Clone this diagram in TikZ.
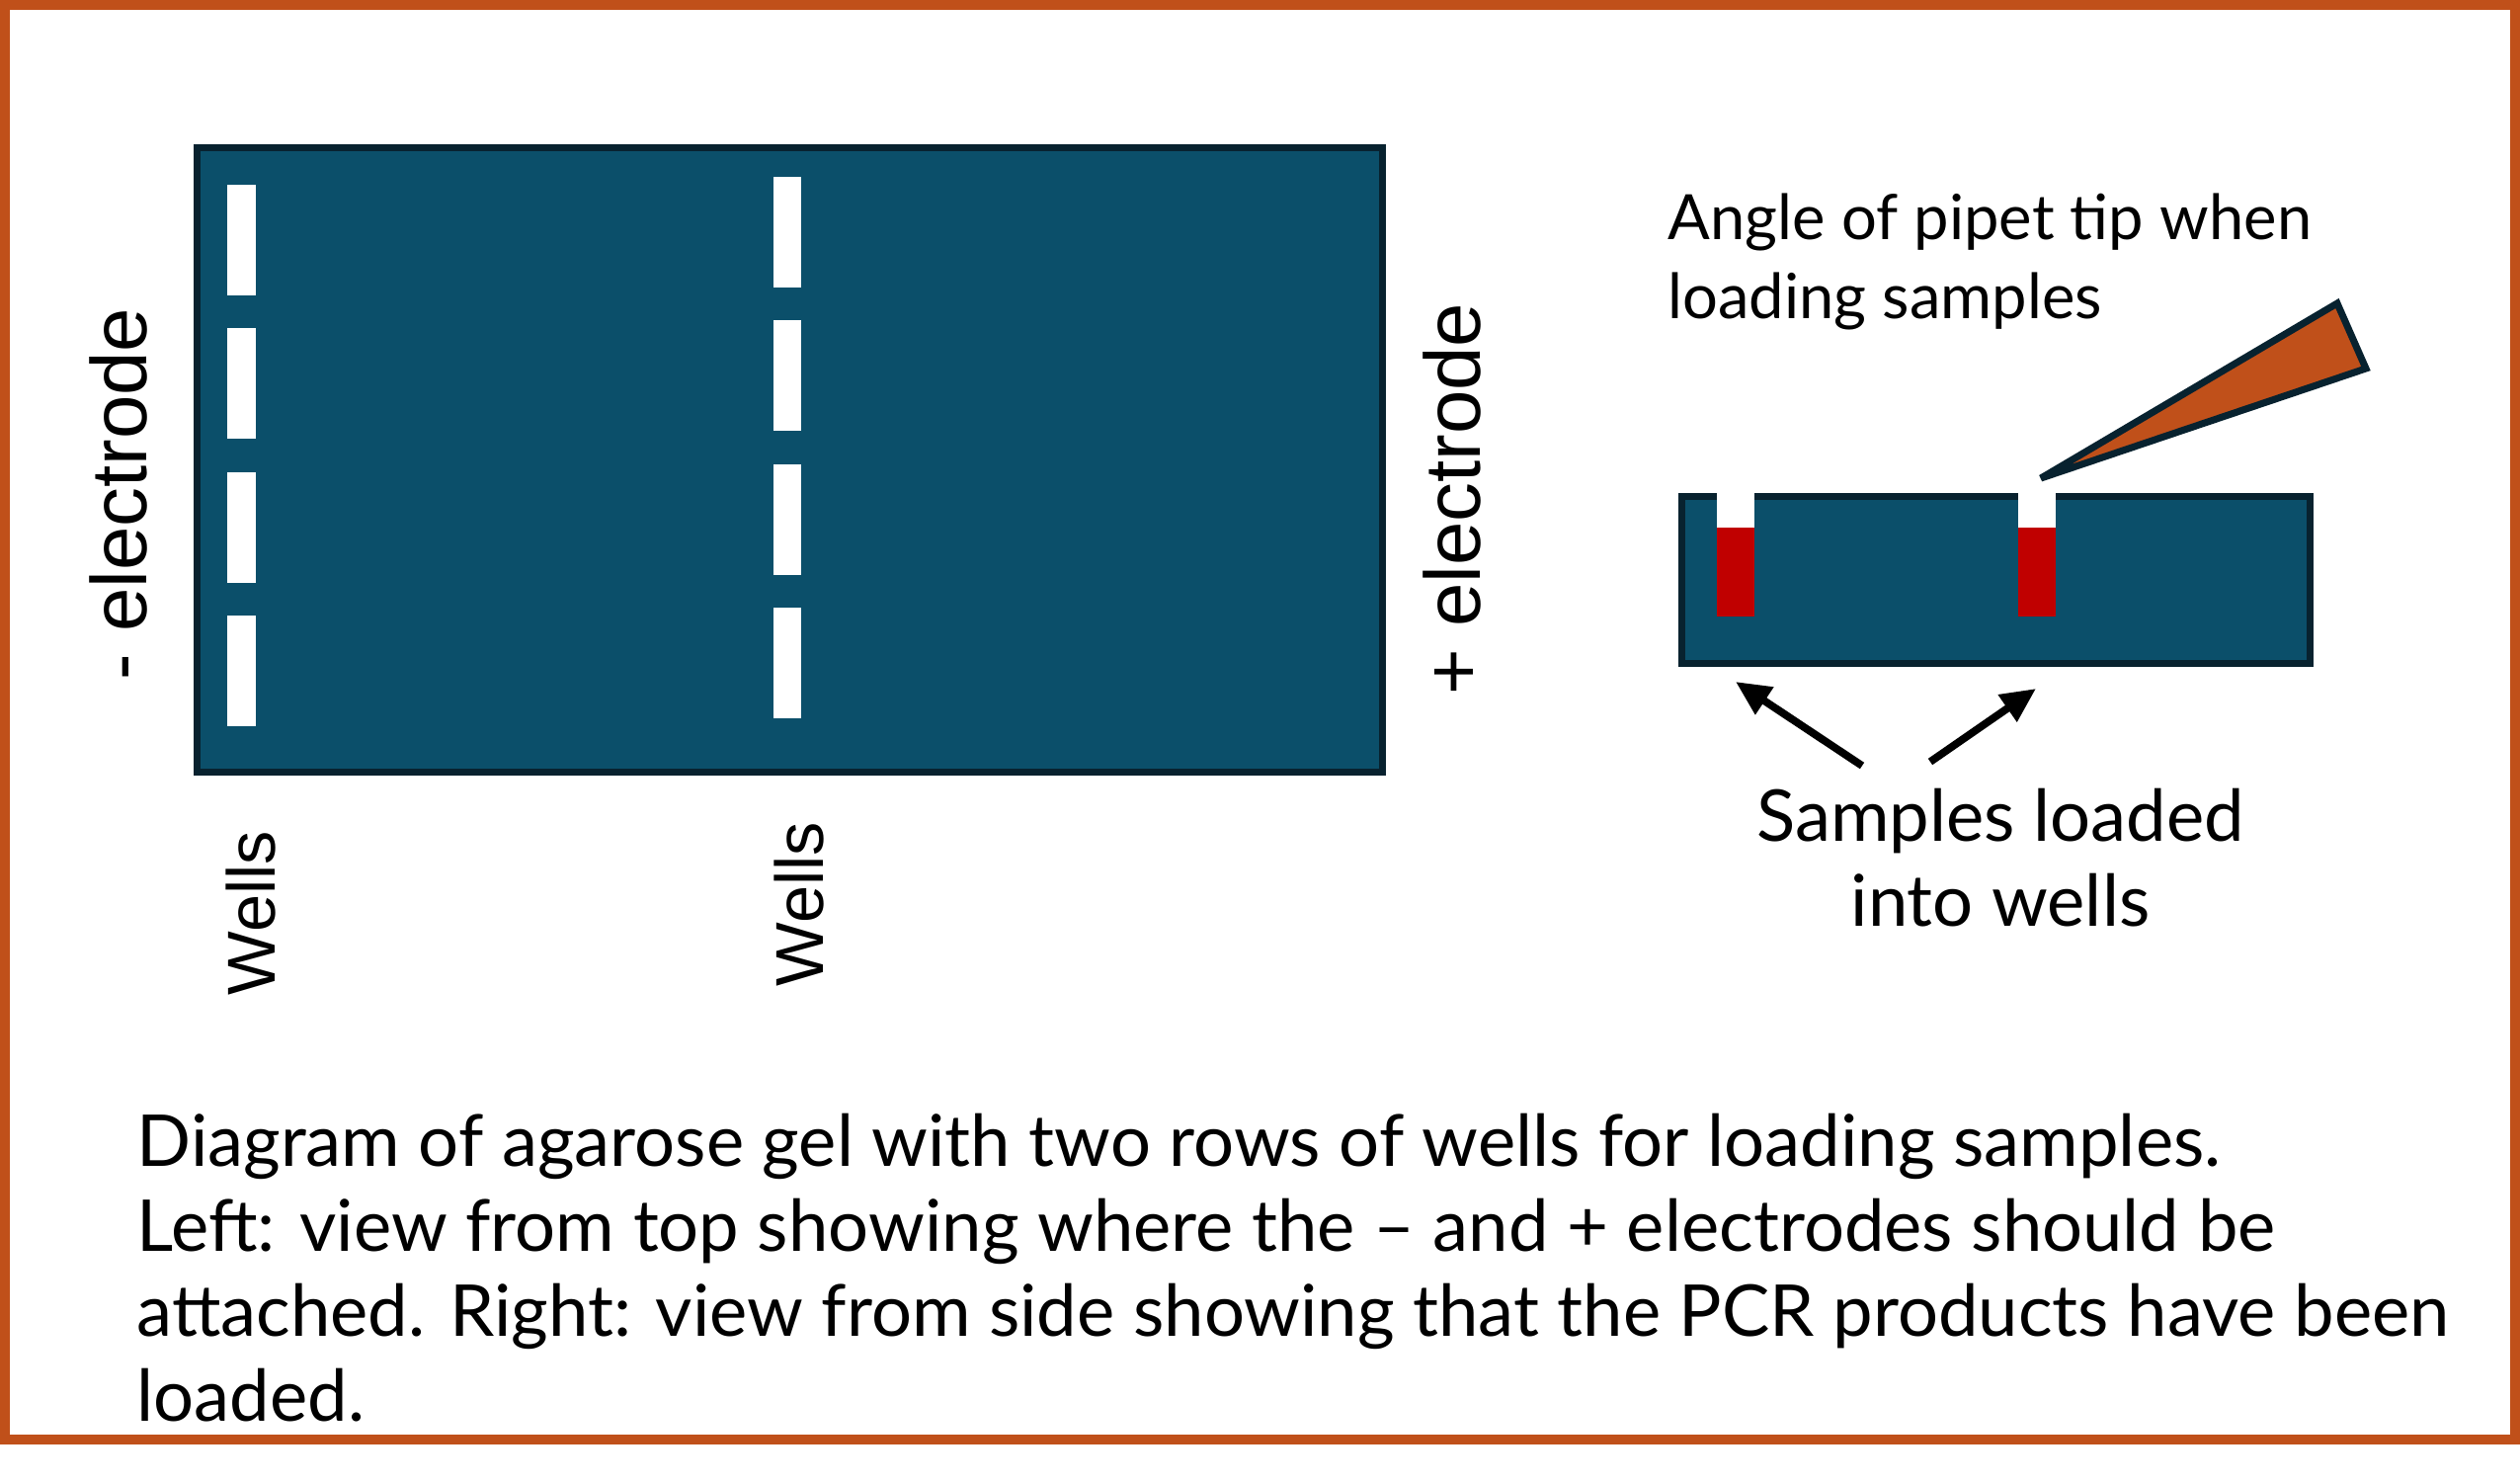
\documentclass[tikz,border=0pt]{standalone}
\usepackage{fontspec}
\setmainfont{Lato}
\newfontfamily\labelfont{Liberation Sans}
\usepackage{tikz}
\usetikzlibrary{positioning}
\usetikzlibrary{arrows.meta}
\definecolor{gelblue}{HTML}{0B4F6A}
\definecolor{geledge}{HTML}{08222F}
\definecolor{rust}{HTML}{C0501A}
\definecolor{dnared}{HTML}{C00000}

\begin{document}
\begin{tikzpicture}
  [x=0.1mm, y=-0.1mm,
   gel/.style = {fill=gelblue, draw=geledge, line width=2pt, inner sep=0pt},
   elabel/.style = {font=\labelfont\fontsize{22.7}{27}\selectfont, inner sep=0pt},
   wlabel/.style = {font=\labelfont\fontsize{19.5}{24}\selectfont, inner sep=0pt},
   note/.style = {font=\fontsize{18}{22.5}\selectfont, inner sep=0pt},
   caption/.style = {font=\fontsize{20.6}{24.4}\selectfont, inner sep=0pt},
   sendarrow/.style = {-{Triangle[length=10pt,width=9pt]}, line width=2.2pt}]

  \useasboundingbox (0,0) rectangle (2551,1502);
  \draw[rust, line width=2.85pt] (5,5) rectangle (2546,1457);

  % top view
  \node[gel, minimum width=12cm, minimum height=6.32cm] (top) at (799.5,465.5) {};
  \foreach \i in {0,...,3} {
    \fill[white] (230,187+145.3*\i) rectangle +(29,112);
    \fill[white] (783,179+145.3*\i) rectangle +(28,112);
  }
  \node[elabel, rotate=90, anchor=base] (minus) at (148,500) {- electrode};
  \node[elabel, rotate=90, anchor=base] (plus) at (1498,505) {+ electrode};
  \node[wlabel, rotate=90, anchor=base] (wellsA) at (278,924) {Wells};
  \node[wlabel, rotate=90, anchor=base] (wellsB) at (833,915) {Wells};

  % side view
  \node[gel, minimum width=6.36cm, minimum height=1.69cm] (side) at (2020.5,587) {};
  \foreach \x in {1738,2043} {
    \fill[white] (\x,494) rectangle +(38,40);
    \fill[dnared] (\x,534) rectangle +(38,90);
  }
  \draw[fill=rust, draw=geledge, line width=2pt, miter limit=2]
    (2066,484) -- (2366,307) -- (2395,373) -- cycle;
  \node[note, anchor=base west, align=left] (angle) at (1688,322)
    {Angle of pipet tip when\\loading samples};

  \coordinate (tailA) at (1885,775);
  \coordinate (tipA) at (1757,690);
  \coordinate (tailB) at (1954,771);
  \coordinate (tipB) at (2061,697);
  \draw[sendarrow] (tailA) -- (tipA);
  \draw[sendarrow] (tailB) -- (tipB);
  \node[caption, anchor=base, align=center] (loaded) at (2025,937)
    {Samples loaded\\into wells};

  \node[caption, anchor=base west, align=left] (legend) at (138,1438)
    {Diagram of agarose gel with two rows of wells for loading samples.\\
     Left: view from top showing where the -- and + electrodes should be\\
     attached. Right: view from side showing that the PCR products have been\\
     loaded.};
\end{tikzpicture}
\end{document}
